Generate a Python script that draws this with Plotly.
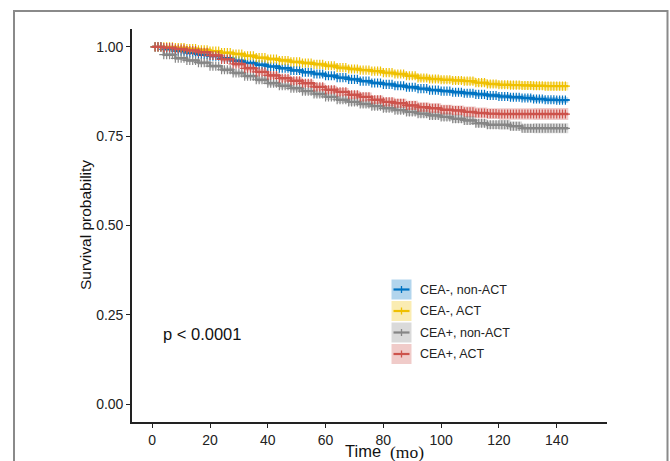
import plotly.graph_objects as go

# ---------------- data ----------------
times = [0, 4, 8, 12, 16, 20, 24, 28, 32, 36, 40, 44, 48, 52, 56, 60, 64, 68, 72,
         76, 80, 84, 88, 92, 96, 100, 104, 108, 112, 116, 120, 124, 128, 132, 136, 140, 144]

groups = ["CEA-, non-ACT", "CEA-, ACT", "CEA+, non-ACT", "CEA+, ACT"]
colors = ["#0073C2", "#EFC000", "#868686", "#CD534C"]
fills = ["rgba(0,115,194,0.30)", "rgba(239,192,0,0.30)",
         "rgba(134,134,134,0.30)", "rgba(205,83,76,0.30)"]

surv_blue = [1.000, 0.993, 0.988, 0.983, 0.978, 0.974, 0.968, 0.961, 0.955, 0.950,
             0.945, 0.940, 0.934, 0.929, 0.924, 0.919, 0.914, 0.909, 0.904, 0.899,
             0.895, 0.891, 0.887, 0.883, 0.879, 0.876, 0.873, 0.870, 0.867, 0.864,
             0.861, 0.859, 0.857, 0.854, 0.852, 0.851, 0.850]
surv_yellow = [1.000, 1.000, 0.998, 0.995, 0.992, 0.988, 0.984, 0.980, 0.975, 0.970,
               0.966, 0.962, 0.958, 0.955, 0.951, 0.947, 0.942, 0.938, 0.935, 0.932,
               0.928, 0.924, 0.919, 0.913, 0.910, 0.908, 0.906, 0.904, 0.900, 0.896,
               0.894, 0.893, 0.892, 0.891, 0.890, 0.890, 0.890]
surv_gray = [1.000, 0.978, 0.968, 0.962, 0.956, 0.946, 0.936, 0.927, 0.918, 0.908,
             0.898, 0.891, 0.884, 0.876, 0.868, 0.860, 0.852, 0.846, 0.840, 0.834,
             0.828, 0.823, 0.818, 0.813, 0.808, 0.804, 0.799, 0.794, 0.786, 0.782,
             0.782, 0.778, 0.772, 0.772, 0.772, 0.772, 0.772]
surv_red = [1.000, 0.998, 0.994, 0.990, 0.985, 0.976, 0.965, 0.952, 0.940, 0.930,
            0.920, 0.912, 0.905, 0.898, 0.888, 0.880, 0.874, 0.866, 0.860, 0.852,
            0.846, 0.842, 0.836, 0.831, 0.828, 0.824, 0.822, 0.818, 0.815, 0.813,
            0.812, 0.812, 0.812, 0.812, 0.812, 0.812, 0.812]

hw_blue = [0, 0.001, 0.002, 0.002, 0.002, 0.003, 0.003, 0.003, 0.003, 0.004, 0.004,
           0.004, 0.004, 0.004, 0.005, 0.005, 0.005, 0.005, 0.005, 0.005, 0.006, 0.006,
           0.006, 0.006, 0.006, 0.006, 0.007, 0.007, 0.007, 0.007, 0.007, 0.007, 0.008,
           0.008, 0.008, 0.008, 0.008]
hw_yellow = [0, 0.001, 0.002, 0.003, 0.003, 0.004, 0.004, 0.004, 0.005, 0.005, 0.005,
             0.006, 0.006, 0.006, 0.006, 0.007, 0.007, 0.007, 0.007, 0.008, 0.008, 0.008,
             0.008, 0.009, 0.009, 0.009, 0.009, 0.010, 0.010, 0.010, 0.010, 0.011, 0.011,
             0.011, 0.012, 0.012, 0.012]
hw_gray = [0, 0.004, 0.005, 0.005, 0.006, 0.006, 0.007, 0.007, 0.007, 0.008, 0.008,
           0.008, 0.008, 0.009, 0.009, 0.009, 0.009, 0.010, 0.010, 0.010, 0.010, 0.010,
           0.011, 0.011, 0.011, 0.011, 0.012, 0.012, 0.012, 0.012, 0.013, 0.013, 0.013,
           0.014, 0.014, 0.014, 0.014]
hw_red = [0, 0.002, 0.003, 0.004, 0.005, 0.006, 0.007, 0.007, 0.008, 0.008, 0.009,
          0.009, 0.010, 0.010, 0.010, 0.011, 0.011, 0.011, 0.012, 0.012, 0.012, 0.013,
          0.013, 0.013, 0.014, 0.014, 0.014, 0.015, 0.015, 0.015, 0.016, 0.016, 0.016,
          0.017, 0.017, 0.017, 0.017]

censor_times = [1, 2, 3, 4, 5, 6, 7, 8, 9, 10, 11, 12, 13, 14, 15, 16, 17, 18, 19, 20,
                21, 22, 23, 24, 25, 26, 27, 28, 29, 30, 31, 32, 33, 34, 35, 36, 37, 38,
                39, 40, 41, 42, 43, 44, 45, 46, 47, 48, 49, 50, 51, 52, 53, 54, 55, 56,
                57, 58, 59, 60, 61, 62, 63, 64, 65, 66, 67, 68, 69, 70, 71, 72, 73, 74,
                75, 76, 77, 78, 79, 80, 81, 82, 83, 84, 85, 86, 87, 88, 89, 90, 91, 92,
                93, 94, 95, 96, 97, 98, 99, 100, 101, 102, 103, 104, 105, 106, 107, 108,
                109, 110, 111, 112, 113, 114, 115, 116, 117, 118, 119, 120, 121, 122,
                123, 124, 125, 126, 127, 128, 129, 130, 131, 132, 133, 134, 135, 136,
                137, 138, 139, 140, 141, 142, 143]

x_ticks = [0, 20, 40, 60, 80, 100, 120, 140]
y_ticks = [0.00, 0.25, 0.50, 0.75, 1.00]
y_tick_labels = ["0.00", "0.25", "0.50", "0.75", "1.00"]
p_text = "p < 0.0001"

survs = [surv_blue, surv_yellow, surv_gray, surv_red]
hws = [hw_blue, hw_yellow, hw_gray, hw_red]


def step_value(t_list, s_list, t):
    v = s_list[0]
    for ti, si in zip(t_list, s_list):
        if ti <= t:
            v = si
        else:
            break
    return v


fig = go.Figure()

for name, col, fc, s, hw in zip(groups, colors, fills, survs, hws):
    lower = [a - b for a, b in zip(s, hw)]
    upper = [a + b for a, b in zip(s, hw)]
    fig.add_trace(go.Scatter(x=times, y=lower, mode="lines", line=dict(width=0, shape="hv"),
                             showlegend=False, hoverinfo="skip"))
    fig.add_trace(go.Scatter(x=times, y=upper, mode="lines", line=dict(width=0, shape="hv"),
                             fill="tonexty", fillcolor=fc, showlegend=False, hoverinfo="skip"))

for name, col, s in zip(groups, colors, survs):
    fig.add_trace(go.Scatter(x=times, y=s, mode="lines", name=name,
                             line=dict(color=col, width=2.4, shape="hv"), showlegend=False))
    cy = [step_value(times, s, c) for c in censor_times]
    fig.add_trace(go.Scatter(x=censor_times, y=cy, mode="markers", showlegend=False,
                             marker=dict(symbol="cross-thin", size=6.5,
                                         line=dict(color=col, width=1.2))))

# ---------- layout geometry (pixels) ----------
W, H = 670, 461
L, R, T, B = 132, 607, 29, 422


def px_x(px):
    return (px - L) / (R - L)


def px_y(py):
    return (B - py) / (B - T)


shapes = []
annotations = []

# outer frame
shapes.append(dict(type="rect", xref="paper", yref="paper",
                   x0=px_x(14), x1=px_x(667.5), y0=px_y(11), y1=px_y(480),
                   line=dict(color="#8a8a8a", width=2), fillcolor="rgba(0,0,0,0)",
                   layer="below"))

# manual legend
row_centers = [289.5, 311, 332.5, 354]
for name, col, fc, yc in zip(groups, colors, fills, row_centers):
    shapes.append(dict(type="rect", xref="paper", yref="paper",
                       x0=px_x(391.5), x1=px_x(411.5), y0=px_y(yc - 10), y1=px_y(yc + 10),
                       line=dict(width=0), fillcolor=fc))
    shapes.append(dict(type="line", xref="paper", yref="paper",
                       x0=px_x(393.5), x1=px_x(409.5), y0=px_y(yc), y1=px_y(yc),
                       line=dict(color=col, width=2.2)))
    shapes.append(dict(type="line", xref="paper", yref="paper",
                       x0=px_x(401.5), x1=px_x(401.5), y0=px_y(yc - 3.5), y1=px_y(yc + 3.5),
                       line=dict(color=col, width=1.3)))
    annotations.append(dict(xref="paper", yref="paper", x=px_x(418), y=px_y(yc),
                            xanchor="left", yanchor="middle", showarrow=False, text=name,
                            font=dict(family="Liberation Sans, Arial", size=12.5, color="#222")))

# p-value
annotations.append(dict(xref="paper", yref="paper", x=px_x(161), y=px_y(334),
                        xanchor="left", yanchor="middle", showarrow=False, text=p_text,
                        font=dict(family="Liberation Sans, Arial", size=16.5, color="#111")))

# y axis title
annotations.append(dict(xref="paper", yref="paper", x=px_x(85), y=px_y(225),
                        xanchor="center", yanchor="middle", showarrow=False,
                        text="Survival probability", textangle=-90,
                        font=dict(family="Liberation Sans, Arial", size=15.5, color="#111")))

# x axis title (mixed fonts)
annotations.append(dict(xref="paper", yref="paper", x=px_x(343), y=px_y(451),
                        xanchor="left", yanchor="middle", showarrow=False, text="Time",
                        font=dict(family="Liberation Sans, Arial", size=16.5, color="#111")))
annotations.append(dict(xref="paper", yref="paper", x=px_x(388), y=px_y(452),
                        xanchor="left", yanchor="middle", showarrow=False, text="(mo)",
                        font=dict(family="Liberation Serif, Times New Roman", size=17.5, color="#111")))

fig.update_layout(
    width=W, height=H,
    margin=dict(l=L, r=W - R, t=T, b=H - B, pad=0),
    paper_bgcolor="white", plot_bgcolor="white",
    shapes=shapes, annotations=annotations,
    showlegend=False,
    font=dict(family="Liberation Sans, Arial", color="#222"),
    xaxis=dict(range=[-7, 157.4], tickvals=x_ticks, ticks="outside", ticklen=4,
               tickwidth=1.2, tickcolor="#222", showline=True, linecolor="#222",
               linewidth=1.6, showgrid=False, zeroline=False,
               tickfont=dict(size=14, color="#222")),
    yaxis=dict(range=[-0.05, 1.05], tickvals=y_ticks, ticktext=y_tick_labels,
               ticks="outside", ticklen=4, tickwidth=1.2, tickcolor="#222",
               showline=True, linecolor="#222", linewidth=1.6, showgrid=False,
               zeroline=False, tickfont=dict(size=14, color="#222")),
)

fig.write_html("out.html", config={"displayModeBar": False},
               post_script="document.body.style.margin='0px';document.body.style.overflow='hidden';")
